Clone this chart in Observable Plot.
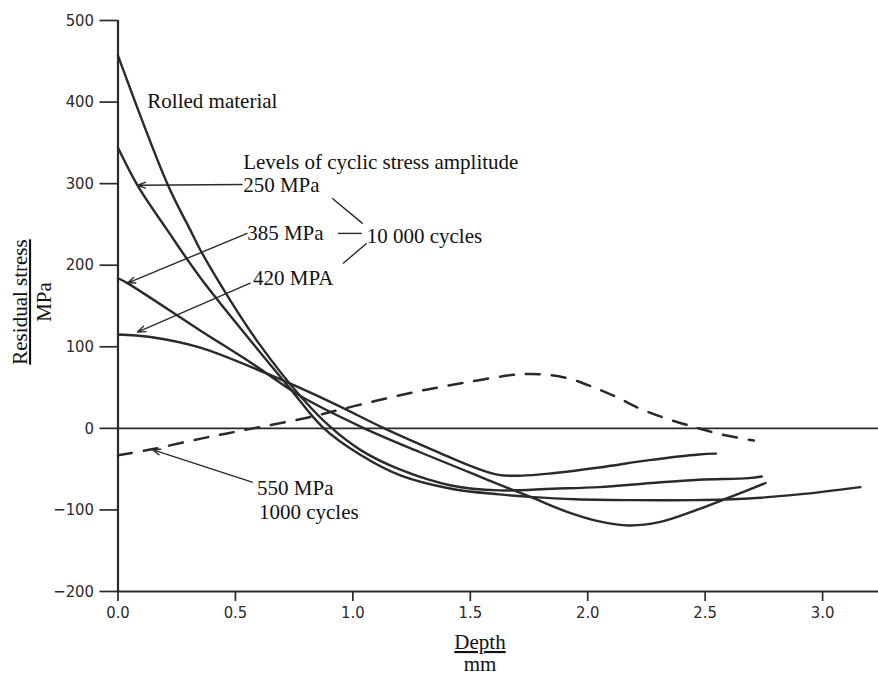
<!DOCTYPE html>
<html><head><meta charset="utf-8">
<script src="https://cdn.jsdelivr.net/npm/d3@7"></script>
<script src="https://cdn.jsdelivr.net/npm/@observablehq/plot@0.6"></script>
<style>
html,body{margin:0;padding:0;background:#fff;}
#chart{width:878px;height:684px;position:relative;}
</style></head><body><div id="chart"></div>
<script>
// Series values (depth in mm, residual stress in MPa)
const rolledDepth  = [0, 0.21, 0.308, 0.35, 0.478, 0.605, 0.775, 0.903, 1.035, 1.205, 1.418, 1.624, 1.85, 2.049, 2.27, 2.473, 2.686, 2.741];
const rolledStress = [457, 300, 243, 219, 157, 102, 40, 2, -27, -51, -70, -76, -74, -72, -67, -63, -61, -59];

const mpa250Depth  = [0, 0.083, 0.21, 0.35, 0.563, 0.732, 0.873, 1.035, 1.205, 1.418, 1.624, 1.752, 1.95, 2.189, 2.45, 2.686, 2.898, 3.161];
const mpa250Stress = [344, 298, 243, 185, 108, 49, 1, -33, -58, -74, -81, -84, -87, -88, -88, -86, -81, -72];

const mpa385Depth  = [0, 0.04, 0.35, 0.563, 0.775, 1.042, 1.284, 1.497, 1.624, 1.764, 1.909, 2.049, 2.176, 2.304, 2.473, 2.6, 2.757];
const mpa385Stress = [184, 178, 120, 81, 40, 1, -29, -54, -69, -85, -102, -114, -119, -115, -99, -85, -67];

const mpa420Depth  = [0, 0.138, 0.35, 0.635, 0.915, 1.127, 1.369, 1.5, 1.62, 1.72, 1.85, 2.049, 2.261, 2.473, 2.546];
const mpa420Stress = [115, 112, 99, 67, 31, 1, -30, -46, -57, -58, -55, -48, -39, -32, -31];

const mpa550Depth  = [0, 0.138, 0.363, 0.575, 0.805, 1.03, 1.255, 1.476, 1.701, 1.815, 1.921, 2.019, 2.125, 2.231, 2.346, 2.461, 2.563, 2.707];
const mpa550Stress = [-33, -26, -12, 0, 13, 29, 44, 56, 66, 66, 61, 51, 38, 23, 11, 1, -7, -15];

const xTicks = [0, 0.5, 1.0, 1.5, 2.0, 2.5, 3.0];
const yTicks = [-200, -100, 0, 100, 200, 300, 400, 500];
const xMax = 3.238;

// Annotation texts and their anchors (data units)
const labelTexts = ["Rolled material", "Levels of cyclic stress amplitude", "250 MPa", "385 MPa", "420 MPA", "10 000 cycles", "550 MPa", "1000 cycles"];
const labelDepth = [0.125, 0.533, 0.533, 0.55, 0.575, 1.059, 0.592, 0.6];
const labelStress = [401, 326, 298, 239, 184, 235, -74, -103];

// Leader arrows (from label to curve)
const arrows = [
  {x1: 0.528, y1: 299, x2: 0.083, y2: 298},
  {x1: 0.55,  y1: 239, x2: 0.04,  y2: 178},
  {x1: 0.563, y1: 178, x2: 0.083, y2: 118},
  {x1: 0.571, y1: -66, x2: 0.146, y2: -26}
];
// Bracket strokes toward "10 000 cycles"
const brackets = [
  {x1: 0.912, y1: 282, x2: 1.042, y2: 251},
  {x1: 1.059, y1: 227, x2: 0.958, y2: 202},
  {x1: 0.936, y1: 239, x2: 1.038, y2: 239}
];

function series(name, depth, stress) {
  return depth.map((d, i) => ({name, depth: d, stress: stress[i]}));
}
const solid = [
  ...series("Rolled material", rolledDepth, rolledStress),
  ...series("250 MPa", mpa250Depth, mpa250Stress),
  ...series("385 MPa", mpa385Depth, mpa385Stress),
  ...series("420 MPa", mpa420Depth, mpa420Stress)
];
const dashed = series("550 MPa", mpa550Depth, mpa550Stress);
const labels = labelTexts.map((t, i) => ({text: t, depth: labelDepth[i], stress: labelStress[i]}));

const ink = "#2a2a2a";
const tickFont = "'Liberation Sans Narrow', 'DejaVu Sans Condensed', 'Liberation Sans', sans-serif";
const serif = "'Liberation Serif', 'Times New Roman', serif";

const plot = Plot.plot({
  width: 878, height: 684,
  marginLeft: 117.5, marginRight: 0, marginTop: 20, marginBottom: 93,
  x: {domain: [0, xMax]},
  y: {domain: [-200, 500]},
  style: {background: "#fff", color: ink},
  marks: [
    Plot.ruleY([0], {x1: 0, x2: xMax, stroke: ink, strokeWidth: 1.7}),
    Plot.ruleY([-200], {x1: 0, x2: xMax, stroke: ink, strokeWidth: 2.2}),
    Plot.ruleX([0], {y1: -200, y2: 500, stroke: ink, strokeWidth: 2.2}),
    Plot.axisX({ticks: xTicks, tickSize: 10, tickPadding: 5, tickFormat: d => d.toFixed(1), label: null,
      fontSize: 16.5, fontFamily: tickFont, stroke: ink, strokeWidth: 1.7, fill: "#2a2a2a"}),
    Plot.axisY({ticks: yTicks, tickSize: 18, tickPadding: 6, label: null,
      fontSize: 16.5, fontFamily: tickFont, stroke: ink, strokeWidth: 1.7, fill: "#2a2a2a"}),
    Plot.line(solid, {x: "depth", y: "stress", z: "name", curve: "catmull-rom", stroke: ink, strokeWidth: 2.4}),
    Plot.line(dashed, {x: "depth", y: "stress", curve: "catmull-rom", stroke: ink, strokeWidth: 2.5, strokeDasharray: "14 12"}),
    Plot.arrow(arrows, {x1: "x1", y1: "y1", x2: "x2", y2: "y2", stroke: ink, strokeWidth: 1.4, headLength: 9, headAngle: 40}),
    Plot.link(brackets, {x1: "x1", y1: "y1", x2: "x2", y2: "y2", stroke: ink, strokeWidth: 1.4}),
    Plot.text(labels, {x: "depth", y: "stress", text: "text", textAnchor: "start", lineAnchor: "middle",
      fontFamily: serif, fontSize: 21, fill: "#111"})
  ]
});

const svg = d3.select(plot);
// Axis titles
svg.append("text").attr("transform", "translate(27,302) rotate(-90)").attr("text-anchor", "middle")
  .attr("font-family", serif).attr("font-size", 21).attr("fill", "#111")
  .style("text-decoration", "underline").text("Residual stress");
svg.append("text").attr("transform", "translate(51,302) rotate(-90)").attr("text-anchor", "middle")
  .attr("font-family", serif).attr("font-size", 21).attr("fill", "#111").text("MPa");
svg.append("text").attr("x", 480).attr("y", 649).attr("text-anchor", "middle")
  .attr("font-family", serif).attr("font-size", 21).attr("fill", "#111")
  .style("text-decoration", "underline").text("Depth");
svg.append("text").attr("x", 480).attr("y", 671).attr("text-anchor", "middle")
  .attr("font-family", serif).attr("font-size", 21).attr("fill", "#111").text("mm");

document.getElementById("chart").appendChild(plot);
</script>
</body></html>
